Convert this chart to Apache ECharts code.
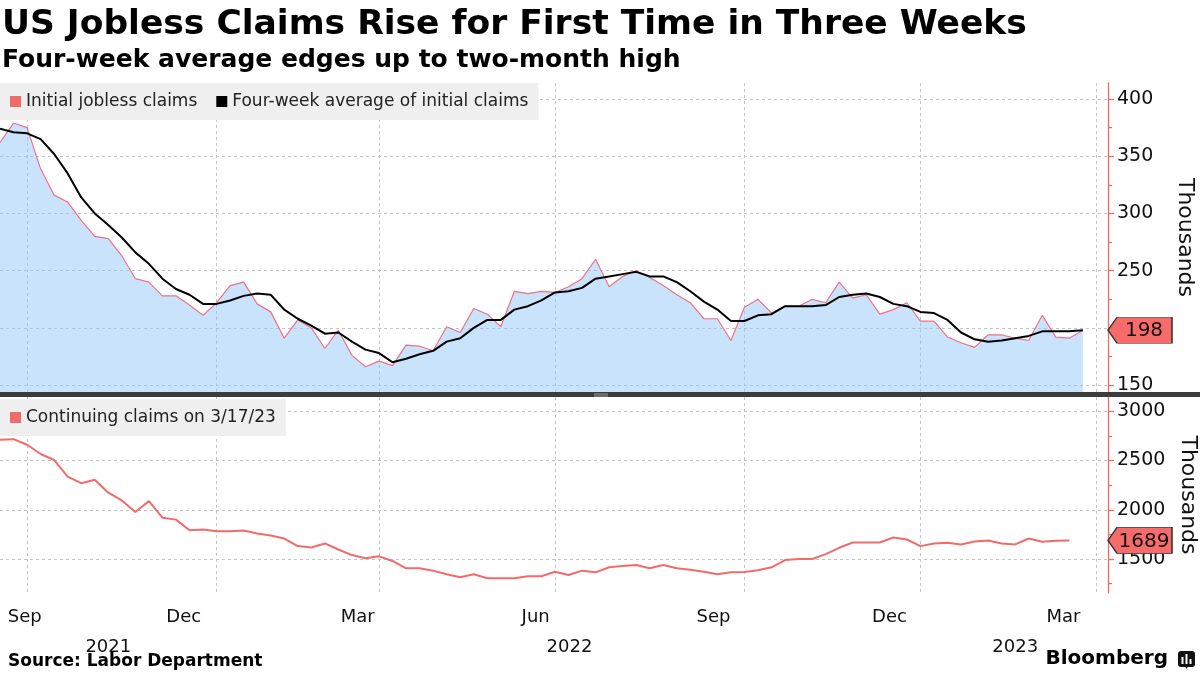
<!DOCTYPE html>
<html><head><meta charset="utf-8">
<script src="https://cdn.jsdelivr.net/npm/echarts@6.0.0/dist/echarts.min.js"></script>
<style>html,body{margin:0;padding:0;background:#fff}#c{width:1200px;height:675px}</style>
</head><body><div id="c"></div>
<script>
// ---------- data ----------
const titleText = 'US Jobless Claims Rise for First Time in Three Weeks';
const subtitleText = 'Four-week average edges up to two-month high';
const sourceText = 'Source: Labor Department';
const firstWeek = '2021-09-11';          // week ending of first observation (weekly data)
const axisStart = '2021-09-11';
const axisEnd = '2023-04-07';

const initialClaims = [362,379,375,339,316,310,294,280,278,263,243,240,228,228,220,211,222,237,240,221,
  214,191,207,200,182,198,176,166,171,167,185,184,180,201,196,217,212,201,232,230,
  232,231,236,243,260,236,245,250,244,237,229,222,208,208,189,218,225,213,219,219,
  225,222,240,226,229,212,216,222,206,206,192,187,183,194,194,191,189,211,192,191,198];
const fourWeekAvg = [374,371,370,365,352,335,314,300,290,279,266,256,243,234,229,221,221,224,228,230,
  229,216,208,202,195,196,188,181,178,170,173,177,180,188,191,200,207,207,216,219,
  224,231,232,235,243,245,247,249,245,245,240,232,223,216,206,206,211,212,219,219,
  219,220,227,229,230,227,221,219,214,213,207,196,190,188,189,191,193,197,197,197,198];
const continuingClaims = [2710,2717,2660,2566,2505,2337,2270,2304,2173,2095,1977,2088,1920,1900,1792,1799,1782,1782,1789,1759,
  1739,1708,1631,1617,1658,1597,1540,1507,1527,1480,1406,1406,1382,1345,1315,1345,1305,1305,1305,1325,
  1325,1371,1338,1382,1365,1416,1429,1439,1406,1439,1406,1392,1371,1345,1365,1368,1385,1416,1489,1500,
  1500,1550,1614,1668,1668,1668,1718,1698,1631,1658,1664,1648,1678,1688,1658,1648,1708,1675,1685,1689];

const gridDates = ['2021-09-25','2022-01-01','2022-03-26','2022-06-25','2022-10-01','2022-12-31','2023-04-01'];
const monthLabelDates = ['2021-09-15','2021-12-15','2022-03-15','2022-06-15','2022-09-15','2022-12-15','2023-03-15'];
const monthLabels = ['Sep','Dec','Mar','Jun','Sep','Dec','Mar'];
const yearLabels = ['2021','2022','2023'];
const topTicks = [150,200,250,300,350,400];
const topMinorTicks = [175,225,275,325,375];
const bottomTicks = [1500,2000,2500,3000];
const bottomMinorTicks = [1250,1750,2250,2750];
const topRange = [144, 414];
const bottomRange = [1155, 3145];
const seriesNames = ['Initial jobless claims','Four-week average of initial claims','Continuing claims on 3/17/23'];

// ---------- helpers ----------
function ts(s){ const p = s.split('-').map(Number); return new Date(p[0], p[1]-1, p[2]).getTime(); }
function weekDate(i){ const p = firstWeek.split('-').map(Number); return new Date(p[0], p[1]-1, p[2] + 7*i).getTime(); }
function pairs(arr){ return arr.map((v,i)=>[weekDate(i), v]); }
const xMin = ts(axisStart), xMax = ts(axisEnd);
const gridTs = gridDates.map(ts);
const monthTs = monthLabelDates.map(ts);
const yearTs = yearLabels.map(y => {
  const a = Math.max(new Date(+y,0,1).getTime(), xMin);
  const b = Math.min(new Date(+y+1,0,1).getTime(), xMax);
  return Math.round((a+b)/2);
});
function nearestIdx(arr, v){ let k=-1, d=Infinity; arr.forEach((a,i)=>{ const e=Math.abs(a-v); if(e<d){d=e;k=i;} }); return d < 86400000 ? k : -1; }

const FONT = 'DejaVu Sans';
const RED = '#f26b6b';
const LINE1 = '#ef7282';
const AXISRED = '#f06a6a';
const GRID = '#c4c4c4';
const TAG = 'path://M0,13L9,0L64,0L64,26L9,26Z';

function tagPoint(xv, yv){
  return {
    symbol: TAG, symbolSize: [64,26], symbolKeepAspect: false, symbolOffset: ['50%', 0],
    itemStyle: {color: '#f76b6b', borderColor: '#333', borderWidth: 1},
    label: {show: true, position: 'inside', offset: [4,1], color: '#111', fontSize: 20, fontFamily: FONT, formatter: '{c}'},
    data: [{coord: [xv, yv], value: yv}],
    silent: true
  };
}

function xAxisBase(gi){
  return {gridIndex: gi, type: 'value', min: xMin, max: xMax,
    axisLine: {show: false}, axisTick: {show: false, customValues: gridTs},
    splitLine: {show: true, lineStyle: {color: GRID, type: [3,3], width: 1}}};
}
const plainNum = v => String(Math.round(v));

const option = {
  animation: false,
  backgroundColor: '#ffffff',
  textStyle: {fontFamily: FONT},
  title: [
    {text: titleText, left: 2, top: 8, padding: 0,
     textStyle: {fontFamily: FONT, fontSize: 34.5, fontWeight: 'bold', color: '#000'}},
    {text: subtitleText, left: 2, top: 48, padding: 0,
     textStyle: {fontFamily: FONT, fontSize: 25, fontWeight: 'bold', color: '#000'}}
  ],
  legend: [
    {data: [{name: seriesNames[0], itemStyle: {color: RED}}, {name: seriesNames[1], itemStyle: {color: '#000'}}],
     left: 0, top: 83, orient: 'horizontal',
     backgroundColor: '#efefef', padding: [10,10,10,10], itemGap: 19, itemWidth: 11, itemHeight: 11,
     icon: 'rect', textStyle: {fontFamily: FONT, fontSize: 17, color: '#222'}},
    {data: [{name: seriesNames[2], itemStyle: {color: RED}}], left: 0, top: 399,
     backgroundColor: '#efefef', padding: [10,10,10,10], itemWidth: 11, itemHeight: 11,
     icon: 'rect', textStyle: {fontFamily: FONT, fontSize: 17, color: '#222'}}
  ],
  grid: [
    {left: 0, right: 92, top: 83, height: 309, outerBoundsMode: 'none', containLabel: false},
    {left: 0, right: 92, top: 397, height: 196, outerBoundsMode: 'none', containLabel: false}
  ],
  xAxis: [
    Object.assign(xAxisBase(0), {axisLabel: {show: false}}),
    Object.assign(xAxisBase(1), {axisLabel: {show: true, customValues: monthTs, alignMinLabel: 'left',
      fontSize: 18, color: '#111', fontFamily: FONT, margin: 15,
      formatter: v => { const k = nearestIdx(monthTs, v); return k >= 0 ? monthLabels[k] : ''; }}}),
    {gridIndex: 1, type: 'value', min: xMin, max: xMax, position: 'bottom', offset: 30,
     axisLine: {show: false}, axisTick: {show: false}, splitLine: {show: false},
     axisLabel: {show: true, customValues: yearTs, fontSize: 18, color: '#111', fontFamily: FONT, margin: 15,
      formatter: v => { const k = nearestIdx(yearTs, v); return k >= 0 ? yearLabels[k] : ''; }}}
  ],
  yAxis: [
    {gridIndex: 0, type: 'value', position: 'right', min: topRange[0], max: topRange[1],
     axisLine: {show: true, lineStyle: {color: AXISRED, width: 1.3}},
     axisTick: {show: true, customValues: topTicks, length: 6, lineStyle: {color: AXISRED, width: 1.3}},
     axisLabel: {customValues: topTicks, fontSize: 19, color: '#111', fontFamily: FONT, margin: 9, formatter: plainNum},
     splitLine: {show: true, lineStyle: {color: GRID, type: [3,3], width: 1}},
     name: 'Thousands', nameLocation: 'middle', nameRotate: -90, nameGap: 66,
     nameTextStyle: {fontSize: 22, color: '#111', fontFamily: FONT}},
    {gridIndex: 0, type: 'value', position: 'right', min: topRange[0], max: topRange[1],
     axisLine: {show: false}, axisLabel: {show: false}, splitLine: {show: false},
     axisTick: {show: true, customValues: topMinorTicks, length: 4, lineStyle: {color: AXISRED, width: 1.3}}},
    {gridIndex: 1, type: 'value', position: 'right', min: bottomRange[0], max: bottomRange[1],
     axisLine: {show: true, lineStyle: {color: AXISRED, width: 1.3}},
     axisTick: {show: true, customValues: bottomTicks, length: 6, lineStyle: {color: AXISRED, width: 1.3}},
     axisLabel: {customValues: bottomTicks, fontSize: 19, color: '#111', fontFamily: FONT, margin: 9, formatter: plainNum},
     splitLine: {show: true, lineStyle: {color: GRID, type: [3,3], width: 1}},
     name: 'Thousands', nameLocation: 'middle', nameRotate: -90, nameGap: 66,
     nameTextStyle: {fontSize: 22, color: '#111', fontFamily: FONT}},
    {gridIndex: 1, type: 'value', position: 'right', min: bottomRange[0], max: bottomRange[1],
     axisLine: {show: false}, axisLabel: {show: false}, splitLine: {show: false},
     axisTick: {show: true, customValues: bottomMinorTicks, length: 4, lineStyle: {color: AXISRED, width: 1.3}}}
  ],
  series: [
    {name: seriesNames[0], type: 'line', xAxisIndex: 0, yAxisIndex: 0, data: pairs(initialClaims),
     symbol: 'none', clip: false, color: LINE1, z: 2,
     lineStyle: {color: LINE1, width: 1.2},
     areaStyle: {color: 'rgba(150,200,249,0.5)', opacity: 1, origin: 'start'},
     markPoint: tagPoint(xMax, initialClaims[initialClaims.length-1])},
    {name: seriesNames[1], type: 'line', xAxisIndex: 0, yAxisIndex: 0, data: pairs(fourWeekAvg),
     symbol: 'none', clip: false, color: '#000', z: 3,
     lineStyle: {color: '#000', width: 2}},
    {name: seriesNames[2], type: 'line', xAxisIndex: 1, yAxisIndex: 2, data: pairs(continuingClaims),
     symbol: 'none', clip: false, color: RED, z: 3,
     lineStyle: {color: RED, width: 2},
     markPoint: tagPoint(xMax, continuingClaims[continuingClaims.length-1])}
  ],
  graphic: [
    {type: 'rect', left: 0, top: 392, z: 100, shape: {width: 1200, height: 5}, style: {fill: '#3c3c3c'}},
    {type: 'rect', left: 594, top: 393.5, z: 101, shape: {width: 14, height: 1}, style: {fill: '#9a9a9a'}},
    {type: 'rect', left: 594, top: 395.5, z: 101, shape: {width: 14, height: 1}, style: {fill: '#9a9a9a'}},
    {type: 'text', left: 8, top: 653, z: 100, style: {text: sourceText, fontFamily: FONT, fontSize: 17, fontWeight: 'bold', fill: '#000'}},
    {type: 'text', right: 32, top: 649, z: 100, style: {text: 'Bloomberg', fontFamily: FONT, fontSize: 20, fontWeight: 'bold', fill: '#000'}},
    {type: 'group', left: 1178, top: 651, z: 100, children: [
      {type: 'rect', shape: {x: 0, y: 0, width: 17, height: 16, r: 3}, style: {fill: '#111'}},
      {type: 'polygon', shape: {points: [[7,15],[10,15],[8.5,18]]}, style: {fill: '#111'}},
      {type: 'rect', shape: {x: 3.5, y: 6, width: 2, height: 7}, style: {fill: '#fff'}},
      {type: 'rect', shape: {x: 7.5, y: 3, width: 2, height: 10}, style: {fill: '#fff'}},
      {type: 'rect', shape: {x: 11.5, y: 8, width: 2, height: 5}, style: {fill: '#fff'}}
    ]}
  ]
};

const chart = echarts.init(document.getElementById('c'), null, {renderer: 'canvas'});
chart.setOption(option);
</script></body></html>
